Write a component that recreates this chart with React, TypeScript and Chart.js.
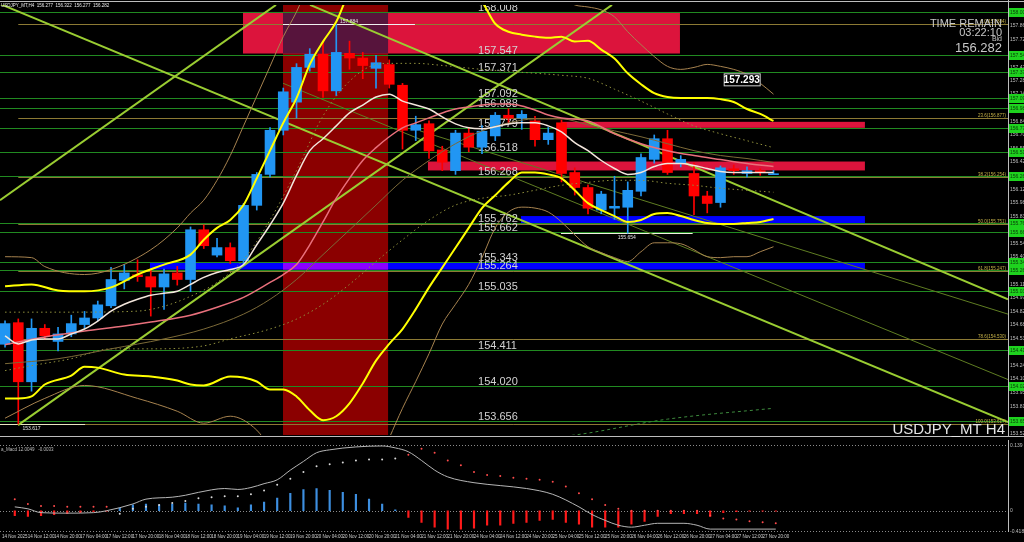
import React, { useEffect, useRef } from "react";
import { Chart, registerables } from "chart.js";

Chart.register(...registerables);

const FONT = '"Liberation Sans", Arial, sans-serif';

// ---------- time axis ----------
const timeLabels = [
  "14 Nov 2025", "14 Nov 12:00", "14 Nov 20:00", "17 Nov 04:00", "17 Nov 12:00", "17 Nov 20:00",
  "18 Nov 04:00", "18 Nov 12:00", "18 Nov 20:00", "19 Nov 04:00", "19 Nov 12:00", "19 Nov 20:00",
  "20 Nov 04:00", "20 Nov 12:00", "20 Nov 20:00", "21 Nov 04:00", "21 Nov 12:00", "21 Nov 20:00",
  "24 Nov 04:00", "24 Nov 12:00", "24 Nov 20:00", "25 Nov 04:00", "25 Nov 12:00", "25 Nov 20:00",
  "26 Nov 04:00", "26 Nov 12:00", "26 Nov 20:00", "27 Nov 04:00", "27 Nov 12:00", "27 Nov 20:00",
];

// ---------- candles (H4) ----------
const opens = [154.47,154.70,154.07,154.64,154.50,154.58,154.68,154.75,154.88,155.15,155.21,155.19,155.08,155.23,155.16,155.69,155.42,155.50,155.36,155.95,156.28,156.75,157.05,157.42,157.56,157.17,157.57,157.52,157.41,157.45,157.23,156.75,156.82,156.54,156.32,156.72,156.57,156.69,156.91,156.88,156.85,156.65,156.83,156.30,156.14,155.90,155.92,155.93,156.10,156.44,156.66,156.40,156.29,156.05,155.98,156.34,156.29,156.32,156.277];
const highs = [154.72,154.74,154.74,154.68,154.65,154.78,154.82,154.93,155.29,155.32,155.37,155.26,155.27,155.30,155.72,155.74,155.60,155.55,155.97,156.30,156.78,157.20,157.46,157.62,157.70,157.88,157.70,157.58,157.55,157.50,157.25,156.90,156.85,156.58,156.75,156.78,156.80,156.94,156.98,156.96,156.90,156.78,156.86,156.35,156.17,156.10,156.26,156.20,156.50,156.70,156.75,156.48,156.40,156.10,156.37,156.38,156.36,156.34,156.322];
const lows = [154.44,153.62,153.97,154.52,154.40,154.55,154.64,154.72,154.86,155.06,155.14,154.77,154.84,155.10,155.03,155.49,155.40,155.33,155.33,155.90,156.25,156.70,156.88,157.38,157.10,157.12,157.40,157.30,157.20,157.20,156.55,156.64,156.45,156.32,156.28,156.52,156.50,156.64,156.82,156.76,156.58,156.60,156.20,156.06,155.86,155.86,155.80,155.654,156.05,156.40,156.28,156.36,155.85,155.87,155.93,156.28,156.25,156.27,156.277];
const closes = [154.69,154.07,154.64,154.56,154.58,154.69,154.75,154.89,155.16,155.23,155.19,155.08,155.22,155.16,155.69,155.52,155.50,155.36,155.95,156.28,156.75,157.16,157.42,157.56,157.17,157.58,157.52,157.44,157.47,157.24,156.75,156.81,156.53,156.41,156.72,156.57,156.74,156.91,156.88,156.92,156.65,156.72,156.29,156.14,155.92,156.07,155.94,156.11,156.46,156.66,156.30,156.44,156.05,155.97,156.35,156.32,156.32,156.30,156.282];

// ---------- indicator lines on price chart: [barIndex, price] ----------
const upperBand = [[0,155.087],[2,155.108],[4,155.044],[6,155.034],[8,155.076],[10,155.213],[12,155.319],[14,155.425],[15,155.583],[16,155.710],[17,155.794],[18,155.953],[19,156.238],[20,156.533],[21,156.829],[22,157.093],[23,157.452],[24,157.695],[25,157.906],[26,158.223],[28,158.434],[30,158.540],[32,158.519],[34,158.328],[36,158.117],[37,157.885],[38,157.800],[39,157.769],[40,157.748],[41,157.737],[42,157.748],[43,157.695],[44,157.705],[45,157.610],[46,157.515],[47,157.357],[48,157.241],[49,157.146],[50,157.104],[51,157.093],[52,157.093],[53,157.093],[54,157.082],[55,157.051],[56,156.977],[57,156.924],[58,156.850]];
const lowerBand = [[0,153.893],[1,153.893],[2,153.914],[3,154.041],[5,154.136],[6,154.231],[7,154.221],[9,154.147],[11,154.126],[13,154.083],[14,154.041],[15,154.031],[17,154.126],[18,154.115],[19,154.073],[20,153.988],[21,153.988],[22,153.914],[23,153.767],[24,153.661],[25,153.703],[26,153.840],[27,154.052],[28,154.295],[29,154.474],[30,154.632],[31,154.844],[32,155.076],[33,155.287],[34,155.498],[35,155.710],[36,155.921],[37,156.058],[38,156.195],[39,156.301],[40,156.301],[41,156.280],[42,156.238],[43,156.111],[44,155.974],[45,155.900],[46,155.836],[47,155.773],[48,155.794],[49,155.857],[50,155.868],[51,155.836],[52,155.794],[53,155.762],[54,155.752],[55,155.752],[56,155.762],[57,155.773],[58,155.805]];
const fastMa = [[0,154.559],[1,154.474],[2,154.516],[3,154.527],[4,154.527],[5,154.580],[6,154.632],[7,154.717],[8,154.823],[9,154.896],[10,154.949],[11,154.992],[12,155.013],[13,155.034],[14,155.108],[15,155.182],[16,155.234],[17,155.266],[18,155.319],[19,155.530],[20,155.741],[21,155.974],[22,156.269],[23,156.533],[24,156.660],[25,156.797],[26,156.935],[27,157.019],[28,157.104],[29,157.135],[30,157.061],[31,157.019],[32,156.977],[33,156.892],[34,156.818],[35,156.776],[36,156.766],[37,156.787],[38,156.818],[39,156.829],[40,156.829],[41,156.797],[42,156.734],[43,156.618],[44,156.533],[45,156.428],[46,156.343],[47,156.280],[48,156.301],[49,156.364],[50,156.396],[51,156.396],[52,156.375],[53,156.343],[54,156.312],[55,156.301],[56,156.301],[57,156.301],[58,156.301]];
const slowMa = [[0,154.464],[1,154.495],[3,154.548],[6,154.611],[9,154.664],[11,154.706],[14,154.780],[16,154.865],[18,154.970],[20,155.129],[21,155.213],[22,155.319],[23,155.530],[24,155.773],[25,156.026],[26,156.238],[27,156.428],[28,156.565],[29,156.681],[30,156.776],[31,156.829],[32,156.882],[33,156.935],[34,156.977],[35,156.998],[36,157.019],[37,157.030],[38,157.030],[39,157.009],[40,156.966],[41,156.913],[42,156.880],[44,156.850],[46,156.713],[48,156.607],[50,156.533],[52,156.481],[54,156.438],[56,156.396],[58,156.364]];
const outerUpper = [[0,155.403],[2,155.393],[3,155.298],[6,155.213],[8,155.266],[11,155.477],[13,155.710],[14,155.868],[15,156.005],[16,156.217],[17,156.481],[18,156.797],[19,157.114],[20,157.431],[21,157.748],[22,158.012],[23,158.328],[25,158.751],[40,158.540],[42,158.170],[43,158.086],[44,158.064],[45,158.033],[46,157.959],[47,157.800],[48,157.663],[49,157.536],[50,157.431],[51,157.399],[52,157.420],[53,157.452],[54,157.431],[55,157.399],[56,157.346],[57,157.251],[58,157.135]];
const outerLower = [[0,153.682],[3,153.893],[6,154.031],[10,153.893],[13,153.756],[15,153.629],[17,153.703],[19,153.555],[20,153.365],[24,152.626],[27,152.837],[29,153.471],[30,153.788],[31,154.073],[32,154.369],[33,154.685],[34,154.896],[35,155.108],[36,155.393],[37,155.710],[38,155.879],[39,155.931],[40,155.921],[41,155.879],[42,155.773],[43,155.636],[44,155.509],[45,155.446],[46,155.393],[47,155.351],[48,155.456],[49,155.551],[50,155.551],[51,155.541],[52,155.477],[53,155.403],[54,155.393],[55,155.403],[56,155.403],[57,155.456],[58,155.509]];
const longMa = [[0,154.263],[4,154.316],[8,154.421],[12,154.527],[15,154.632],[18,154.791],[20,154.949],[22,155.160],[24,155.425],[26,155.688],[28,155.953],[30,156.217],[32,156.428],[34,156.607],[36,156.744],[38,156.829],[40,156.871],[42,156.871],[44,156.808],[46,156.744],[48,156.681],[50,156.607],[52,156.533],[54,156.481],[56,156.449],[58,156.407]];
const dotUpper = [[0,154.812],[5,154.812],[10,154.823],[12,154.875],[14,154.981],[16,155.129],[18,155.372],[20,155.794],[22,156.322],[24,156.903],[26,157.273],[28,157.452],[29,157.463],[31,157.463],[33,157.441],[36,157.399],[39,157.368],[42,157.336],[44,157.304],[46,157.188],[48,157.061],[50,156.924],[52,156.797],[54,156.713],[56,156.639],[58,156.565]];
const dotMiddle = [[0,154.189],[2,154.242],[5,154.316],[8,154.421],[11,154.421],[15,154.453],[17,154.527],[20,154.632],[22,154.738],[24,154.896],[26,155.108],[28,155.351],[30,155.583],[32,155.794],[34,155.953],[36,156.026],[38,156.058],[40,156.111],[42,156.164],[44,156.195],[46,156.217],[48,156.217],[50,156.185],[52,156.164],[54,156.132],[56,156.111],[58,156.090]];
const dotLower = [[36,153.418],[43,153.503],[50,153.672],[58,153.788]];

// ---------- objects ----------
const greenLevels = [158.008,157.547,157.371,157.092,156.988,156.779,156.518,156.268,155.762,155.662,155.343,155.264,155.035,154.411,154.020,153.656];
const fibLevels = [157.884,156.877,156.254,155.751,155.247,154.530,153.617];
const fibNames = ["0.0","23.6","38.2","50.0","61.8","78.6","100.0"];
const fibStart = 1;
const levelLabelAt = 35.7;
// [x0, price0, x1, price1]
const thickTrends = [[-0.38,158.096,75.7,153.640],[23.02,158.086,75.7,154.949],[-0.38,156.005,20.45,158.086],[0.98,153.608,45.81,158.086]];
const thinTrends = [[31.32,156.744,75.7,154.791],[20.98,157.251,75.7,154.094]];
const sessionZone = [20.98, 28.91];
const supplyZone = [17.96, 50.94, 158.011, 157.568];
const pinkBands = [[41.96,64.9,156.840,156.776],[31.92,64.9,156.417,156.322]];
const blueBands = [[38.94,64.9,155.836,155.762],[10.94,64.9,155.340,155.266]];
const highMark = [20.98, 30.94, 157.884];
const lowMark = [41.96, 51.9, 155.654];
const swingLowMark = [-0.38, 6.04, 153.617];
const priceTicks = [157.860,157.720,157.570,157.420,157.280,157.140,156.990,156.840,156.700,156.550,156.420,156.270,156.120,155.980,155.830,155.690,155.540,155.400,155.250,155.110,154.970,154.820,154.680,154.530,154.390,154.240,154.100,153.950,153.810,153.660,153.520];

// ---------- MACD-like sub window ----------
const histogram = [-0.05,-0.06,-0.05,-0.04,-0.03,-0.02,-0.01,-0.005,0.03,0.06,0.07,0.06,0.07,0.08,0.07,0.06,0.05,0.03,0.06,0.09,0.13,0.18,0.22,0.23,0.21,0.19,0.17,0.12,0.07,0.01,-0.07,-0.12,-0.17,-0.19,-0.19,-0.18,-0.15,-0.15,-0.13,-0.12,-0.10,-0.09,-0.12,-0.14,-0.17,-0.17,-0.17,-0.14,-0.11,-0.06,-0.03,-0.03,-0.03,-0.06,-0.02,-0.01,-0.005,-0.005,-0.005];
const signalDots = [0.12,0.07,0.05,0.05,0.04,0.04,0.04,0.04,-0.03,0.02,0.04,0.06,0.08,0.10,0.13,0.14,0.15,0.15,0.17,0.21,0.27,0.33,0.40,0.46,0.48,0.50,0.52,0.53,0.53,0.54,0.58,0.64,0.60,0.52,0.47,0.40,0.37,0.36,0.34,0.33,0.32,0.30,0.25,0.18,0.12,0.06,0.02,0.00,0.00,0.00,0.00,0.00,0.00,-0.05,-0.08,-0.09,-0.11,-0.12,-0.13];
const trendLine = [[0,0.04],[1,0.02],[2,-0.02],[4,-0.025],[6,-0.02],[7,0],[9,0.07],[10,0.12],[12,0.14],[13,0.16],[14,0.19],[16,0.23],[17,0.22],[18,0.24],[19,0.28],[20,0.32],[21,0.42],[22,0.51],[23,0.60],[24,0.63],[26,0.66],[28,0.67],[29,0.65],[30,0.61],[31,0.52],[32,0.42],[33,0.35],[35,0.29],[37,0.26],[39,0.23],[41,0.17],[43,0.04],[44,-0.04],[45,-0.10],[46,-0.15],[47,-0.17],[48,-0.15],[49,-0.13],[51,-0.13],[52,-0.15],[53,-0.19],[58,-0.19]];
const subTicks = [0.67, 0, -0.22];
const subTickLabels = ["0.139", "0", "-0.418"];

const X_MIN = -0.38;
const X_MAX = 75.7;

const BULL = "#2196f3";
const BEAR = "#ff0000";

function lineSet(pts: number[][], color: string, width: number, order: number, extra: any = {}) {
  return {
    type: "line",
    data: pts.map(([x, y]) => ({ x, y })),
    borderColor: color,
    borderWidth: width,
    pointRadius: 0,
    fill: false,
    cubicInterpolationMode: "monotone",
    order,
    ...extra,
  };
}

const mainOverlay = {
  id: "mainOverlay",
  beforeDatasetsDraw(chart: any) {
    const { ctx, chartArea: a } = chart;
    const xs = chart.scales.x;
    const ys = chart.scales.y;
    const X = (v: number) => xs.getPixelForValue(v);
    const Y = (v: number) => ys.getPixelForValue(v);
    ctx.save();
    ctx.beginPath();
    ctx.rect(a.left, a.top, a.right - a.left, a.bottom - a.top);
    ctx.clip();
    const box = (i0: number, i1: number, y0: number, y1: number, color: string) => {
      ctx.fillStyle = color;
      ctx.fillRect(X(i0), Math.min(y0, y1), X(i1) - X(i0), Math.abs(y1 - y0));
    };
    box(sessionZone[0], sessionZone[1], a.top, a.bottom, "#8b0000");
    box(supplyZone[0], supplyZone[1], Y(supplyZone[2]), Y(supplyZone[3]), "#dc143c");
    box(Math.max(supplyZone[0], sessionZone[0]), Math.min(supplyZone[1], sessionZone[1]), Y(supplyZone[2]), Y(supplyZone[3]), "#57143c");
    pinkBands.forEach((b) => box(b[0], b[1], Y(b[2]), Y(b[3]), "#dc143c"));
    blueBands.forEach((b) => {
      box(b[0], b[1], Y(b[2]), Y(b[3]), "#0000ff");
      const s = Math.max(b[0], sessionZone[0]);
      const e = Math.min(b[1], sessionZone[1]);
      if (e > s) box(s, e, Y(b[2]), Y(b[3]), "#8b00ff");
    });
    const hline = (y: number, x0: number, x1: number, color: string, w: number) => {
      const yy = Math.round(y) + 0.5;
      ctx.strokeStyle = color;
      ctx.lineWidth = w;
      ctx.beginPath();
      ctx.moveTo(x0, yy);
      ctx.lineTo(x1, yy);
      ctx.stroke();
    };
    greenLevels.forEach((p) => hline(Y(p), a.left, a.right, "#218a21", 1));
    fibLevels.forEach((p) => hline(Y(p), X(fibStart), a.right, "#8c7a34", 1));
    hline(Y(highMark[2]), X(highMark[0]), X(highMark[1]), "#f0f0f0", 1);
    hline(Y(lowMark[2]), X(lowMark[0]), X(lowMark[1]), "#f0f0e0", 1);
    hline(Y(swingLowMark[2]), X(swingLowMark[0]), X(swingLowMark[1]), "#e8e8c0", 1);
    const seg = (t: number[], color: string, w: number) => {
      ctx.strokeStyle = color;
      ctx.lineWidth = w;
      ctx.beginPath();
      ctx.moveTo(X(t[0]), Y(t[1]));
      ctx.lineTo(X(t[2]), Y(t[3]));
      ctx.stroke();
    };
    thinTrends.forEach((t) => seg(t, "#5f7d22", 1));
    thickTrends.forEach((t) => seg(t, "#9acd32", 2));
    ctx.font = `11px ${FONT}`;
    ctx.fillStyle = "#d2d2d2";
    ctx.textAlign = "left";
    ctx.textBaseline = "alphabetic";
    greenLevels.forEach((p) => ctx.fillText(p.toFixed(3), X(levelLabelAt), Math.round(Y(p)) - 1));
    ctx.font = `4.5px ${FONT}`;
    ctx.fillStyle = "#c9b449";
    ctx.textAlign = "right";
    fibLevels.forEach((p, i) => ctx.fillText(`${fibNames[i]}(${p.toFixed(3)})`, a.right - 2, Math.round(Y(p)) - 1));
    ctx.fillStyle = "#e0e0e0";
    ctx.textAlign = "center";
    ctx.font = `5px ${FONT}`;
    ctx.fillText(highMark[2].toFixed(3), X((highMark[0] + highMark[1]) / 2), Math.round(Y(highMark[2])) - 1);
    ctx.fillText(lowMark[2].toFixed(3), X((lowMark[0] + lowMark[1]) / 2), Math.round(Y(lowMark[2])) + 6);
    ctx.fillText(swingLowMark[2].toFixed(3), X(2), Math.round(Y(swingLowMark[2])) + 6);
    ctx.restore();
  },
  afterDraw(chart: any) {
    const { ctx, chartArea: a, width } = chart;
    const ys = chart.scales.y;
    const xs = chart.scales.x;
    const Y = (v: number) => ys.getPixelForValue(v);
    ctx.save();
    ctx.strokeStyle = "#bdbdbd";
    ctx.lineWidth = 1;
    ctx.beginPath();
    ctx.moveTo(0, 1.5);
    ctx.lineTo(width, 1.5);
    ctx.moveTo(0, a.bottom + 1.5);
    ctx.lineTo(width, a.bottom + 1.5);
    ctx.moveTo(a.right + 0.5, 0);
    ctx.lineTo(a.right + 0.5, a.bottom + 2);
    ctx.stroke();
    ctx.font = `5px ${FONT}`;
    ctx.textAlign = "left";
    ctx.textBaseline = "middle";
    greenLevels.forEach((p) => {
      const y = Math.round(Y(p));
      ctx.fillStyle = "#1ed21e";
      ctx.fillRect(a.right + 1, y - 4, width - a.right - 1, 9);
      ctx.fillStyle = "#0a3a0a";
      ctx.fillText(p.toFixed(3), a.right + 2, y + 0.5);
    });
    ctx.textBaseline = "alphabetic";
    ctx.textAlign = "left";
    ctx.fillStyle = "#e8e8e8";
    ctx.font = `4.5px ${FONT}`;
    ctx.fillText("USDJPY_MT,H4  156.277  156.322  156.277  156.282", 1, 7);
    ctx.textAlign = "right";
    ctx.fillStyle = "#c8c8c8";
    ctx.font = `11px ${FONT}`;
    ctx.fillText("TIME REMAIN", 1002, 27);
    ctx.fillText("03:22:10", 1002, 36);
    ctx.font = `7px ${FONT}`;
    ctx.fillText("Bid", 1002, 41);
    ctx.font = `13px ${FONT}`;
    ctx.fillText("156.282", 1002, 52);
    ctx.fillStyle = "#e6e6e6";
    ctx.font = `15px ${FONT}`;
    ctx.fillText("USDJPY_MT H4", 1005, 434);
    const tx = xs.getPixelForValue(55.6);
    const ty = Y(157.293);
    ctx.fillStyle = "#000";
    ctx.fillRect(tx - 18, ty - 6, 37, 13);
    ctx.strokeStyle = "#d0d0d0";
    ctx.strokeRect(tx - 17.5, ty - 5.5, 36, 12);
    ctx.fillStyle = "#ffffff";
    ctx.font = `bold 10px ${FONT}`;
    ctx.textAlign = "center";
    ctx.textBaseline = "middle";
    ctx.fillText("157.293", tx, ty + 0.5);
    ctx.restore();
  },
};

const subOverlay = {
  id: "subOverlay",
  beforeDatasetsDraw(chart: any) {
    const { ctx, chartArea: a } = chart;
    const ys = chart.scales.y;
    ctx.save();
    ctx.strokeStyle = "#8a8a8a";
    ctx.lineWidth = 1;
    ctx.setLineDash([1, 2]);
    [a.top + 0.5, Math.round(ys.getPixelForValue(0)) + 0.5, a.bottom - 0.5].forEach((y) => {
      ctx.beginPath();
      ctx.moveTo(0, y);
      ctx.lineTo(a.right, y);
      ctx.stroke();
    });
    ctx.restore();
  },
  afterDraw(chart: any) {
    const { ctx, chartArea: a } = chart;
    ctx.save();
    ctx.strokeStyle = "#bdbdbd";
    ctx.lineWidth = 1;
    ctx.beginPath();
    ctx.moveTo(a.right + 0.5, 0);
    ctx.lineTo(a.right + 0.5, a.bottom);
    ctx.stroke();
    ctx.fillStyle = "#bdbdbd";
    ctx.font = `4.5px ${FONT}`;
    ctx.textAlign = "left";
    ctx.fillText("a_Macd 12.0049   -0.0033", 1, a.top + 6);
    ctx.restore();
  },
};

export default function App() {
  const mainRef = useRef<HTMLCanvasElement>(null);
  const subRef = useRef<HTMLCanvasElement>(null);

  useEffect(() => {
    document.body.style.margin = "0";
    document.body.style.background = "#000";
    const idx = opens.map((_, i) => i);
    const candleColor = idx.map((i) => (closes[i] >= opens[i] ? BULL : BEAR));

    const main = new Chart(mainRef.current as HTMLCanvasElement, {
      type: "bar",
      data: {
        datasets: [
          lineSet(upperBand, "#ffff00", 2, 0),
          lineSet(lowerBand, "#ffff00", 2, 0),
          lineSet(fastMa, "#f3e6dc", 1.5, 1),
          lineSet(slowMa, "#e9707c", 1.5, 1),
          lineSet(outerUpper, "#a7834f", 1, 2),
          lineSet(outerLower, "#a7834f", 1, 2),
          lineSet(longMa, "#7c6a38", 1, 2),
          lineSet(dotUpper, "#8f8f3c", 1, 3, { borderDash: [1.5, 3] }),
          lineSet(dotMiddle, "#8f8f3c", 1, 3, { borderDash: [1.5, 3] }),
          lineSet(dotLower, "#3d8a3d", 1, 3, { borderDash: [3, 3] }),
          {
            type: "bar",
            data: idx.map((i) => ({ x: i, y: [opens[i], closes[i]] })),
            backgroundColor: candleColor,
            borderWidth: 0,
            barThickness: 10,
            minBarLength: 1,
            grouped: false,
            order: 5,
          },
          {
            type: "bar",
            data: idx.map((i) => ({ x: i, y: [lows[i], highs[i]] })),
            backgroundColor: candleColor,
            borderWidth: 0,
            barThickness: 1,
            grouped: false,
            order: 6,
          },
        ] as any,
      },
      options: {
        animation: false,
        responsive: false,
        events: [],
        layout: { padding: { top: 3, bottom: 3, left: 0, right: 0 } },
        plugins: { legend: { display: false }, tooltip: { enabled: false } },
        scales: {
          x: { type: "linear", min: X_MIN, max: X_MAX, offset: false, display: false },
          y: {
            position: "right",
            min: 153.503,
            max: 158.085,
            grid: { display: false, drawTicks: false, tickLength: 0 },
            border: { display: false },
            afterFit: (s: any) => { s.width = 16; },
            afterBuildTicks: (s: any) => { s.ticks = priceTicks.map((v) => ({ value: v })); },
            ticks: {
              autoSkip: false,
              padding: 2,
              color: "#bdbdbd",
              font: { size: 5, family: FONT },
              callback: (v: any) => Number(v).toFixed(3),
            },
          },
        },
      } as any,
      plugins: [mainOverlay],
    });

    const dotColors = idx.map((i) => (histogram[i] >= 0 ? "#d8d8d8" : "#ff4b4b"));
    const sub = new Chart(subRef.current as HTMLCanvasElement, {
      type: "bar",
      data: {
        datasets: [
          lineSet(trendLine, "#b5b5b5", 1, 0),
          {
            type: "line",
            data: idx.map((i) => ({ x: i, y: signalDots[i] })),
            showLine: false,
            pointRadius: 1,
            pointBorderWidth: 0,
            pointBackgroundColor: dotColors,
            order: 1,
          },
          {
            type: "bar",
            data: idx.map((i) => ({ x: i, y: histogram[i] })),
            backgroundColor: idx.map((i) => (histogram[i] >= 0 ? "#3d8fe0" : "#ff1a1a")),
            borderWidth: 0,
            barThickness: 1.5,
            grouped: false,
            order: 2,
          },
        ] as any,
      },
      options: {
        animation: false,
        responsive: false,
        events: [],
        layout: { padding: { top: 3, bottom: 0, left: 0, right: 0 } },
        plugins: { legend: { display: false }, tooltip: { enabled: false } },
        scales: {
          x: {
            type: "linear",
            min: X_MIN,
            max: X_MAX,
            offset: false,
            grid: { display: false, drawTicks: false, tickLength: 0 },
            border: { display: false },
            afterFit: (s: any) => { s.height = 10; },
            afterBuildTicks: (s: any) => { s.ticks = timeLabels.map((_, i) => ({ value: i * 2 })); },
            ticks: {
              autoSkip: false,
              maxRotation: 0,
              padding: 2,
              color: "#cfcfcf",
              font: { size: 4.5, family: FONT },
              callback: (_v: any, i: number) => timeLabels[i],
            },
          },
          y: {
            position: "right",
            min: -0.22,
            max: 0.68,
            grid: { display: false, drawTicks: false, tickLength: 0 },
            border: { display: false },
            afterFit: (s: any) => { s.width = 16; },
            afterBuildTicks: (s: any) => { s.ticks = subTicks.map((v) => ({ value: v })); },
            ticks: {
              autoSkip: false,
              padding: 2,
              color: "#bdbdbd",
              font: { size: 5, family: FONT },
              callback: (_v: any, i: number) => subTickLabels[i],
            },
          },
        },
      } as any,
      plugins: [subOverlay],
    });

    return () => {
      main.destroy();
      sub.destroy();
    };
  }, []);

  return (
    <div style={{ position: "fixed", left: 0, top: 0, width: 1024, height: 542, background: "#000", overflow: "hidden" }}>
      <canvas ref={mainRef} width={1024} height={440} style={{ position: "absolute", left: 0, top: 0, width: 1024, height: 440 }} />
      <canvas ref={subRef} width={1024} height={102} style={{ position: "absolute", left: 0, top: 440, width: 1024, height: 102 }} />
    </div>
  );
}
